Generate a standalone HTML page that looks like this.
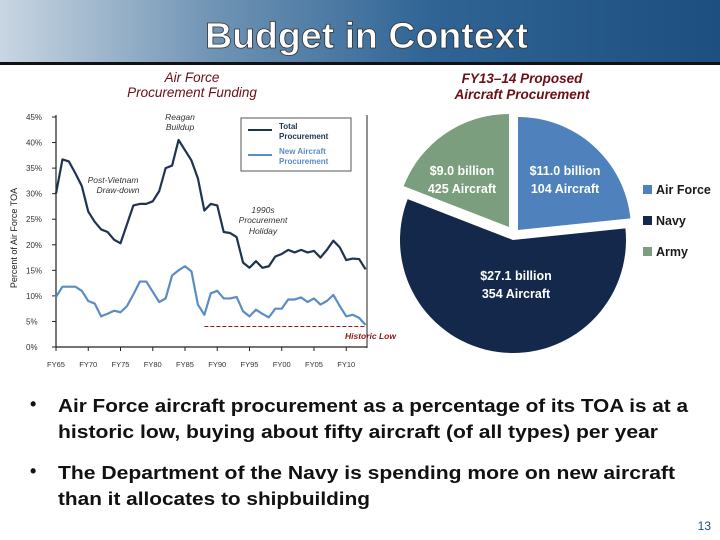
<!DOCTYPE html>
<html><head><meta charset="utf-8"><style>
html,body{margin:0;padding:0;background:#fff;}
svg{display:block;font-family:"Liberation Sans",sans-serif;}
</style></head><body>
<svg width="720" height="540" viewBox="0 0 720 540">
<defs>
<linearGradient id="hdr" x1="0" y1="0" x2="1" y2="0">
<stop offset="0" stop-color="#c9d6e2"/><stop offset="0.3" stop-color="#6f93b4"/><stop offset="0.6" stop-color="#2f6495"/><stop offset="1" stop-color="#1d4f80"/>
</linearGradient>
</defs>
<g>
<rect x="0" y="0" width="720" height="62" fill="url(#hdr)"/>
<rect x="0" y="62" width="720" height="3" fill="#111"/>
<text x="205" y="48" textLength="323" lengthAdjust="spacingAndGlyphs" font-size="36" font-weight="bold" fill="#fff" stroke="#333" stroke-width="0.8">Budget in Context</text>
</g>
<text x="192" y="82" text-anchor="middle" font-size="13.5" font-style="italic" fill="#6b0f14">Air Force</text>
<text x="192" y="97" text-anchor="middle" font-size="13.5" font-style="italic" fill="#6b0f14">Procurement Funding</text>
<text x="522" y="83" text-anchor="middle" font-size="13.5" font-style="italic" font-weight="bold" fill="#6b0f14">FY13–14 Proposed</text>
<text x="522" y="99" text-anchor="middle" font-size="13.5" font-style="italic" font-weight="bold" fill="#6b0f14">Aircraft Procurement</text>
<g id="line-chart"></g>
<g id="pie-chart"></g>
<g>
<text x="30" y="410" font-size="18" font-weight="bold" fill="#111">•</text>
<text x="58" y="412" font-size="18" font-weight="bold" fill="#111" textLength="630" lengthAdjust="spacingAndGlyphs">Air Force aircraft procurement as a percentage of its TOA is at a</text>
<text x="58" y="438" font-size="18" font-weight="bold" fill="#111" textLength="600" lengthAdjust="spacingAndGlyphs">historic low, buying about fifty aircraft (of all types) per year</text>
<text x="30" y="477" font-size="18" font-weight="bold" fill="#111">•</text>
<text x="58" y="479" font-size="18" font-weight="bold" fill="#111" textLength="617" lengthAdjust="spacingAndGlyphs">The Department of the Navy is spending more on new aircraft</text>
<text x="58" y="505" font-size="18" font-weight="bold" fill="#111" textLength="312" lengthAdjust="spacingAndGlyphs">than it allocates to shipbuilding</text>
</g>
<text x="711" y="530" text-anchor="end" font-size="12" fill="#1f4e79">13</text>
</svg>
<script>
const years=[];for(let y=1965;y<=2013;y++)years.push(y);
const totalProcurement=[30,36.7,36.3,34,31.5,26.5,24.5,23,22.5,21,20.3,24,27.7,28,28,28.5,30.5,35,35.5,40.5,38.5,36.5,33,26.7,28,27.7,22.5,22.3,21.5,16.5,15.5,16.8,15.5,15.8,17.7,18.2,19,18.5,19,18.5,18.8,17.5,19,20.8,19.5,17,17.3,17.2,15.2];
const newAircraft=[9.8,11.8,11.8,11.8,11,9,8.5,6,6.5,7.1,6.8,8,10.3,12.8,12.8,10.8,8.8,9.5,14,15,15.8,14.8,8.3,6.3,10.5,11,9.5,9.5,9.8,7,6,7.3,6.5,5.8,7.5,7.5,9.3,9.3,9.7,8.8,9.5,8.3,9,10.2,8,6,6.3,5.7,4.3];
const yTicks=[0,5,10,15,20,25,30,35,40,45];
const xTickYears=[1965,1970,1975,1980,1985,1990,1995,2000,2005,2010];
const historicLow=4;
const pieLabels=["Air Force","Navy","Army"];
const pieValues=[11.0,27.1,9.0];
const pieAircraft=[104,354,425];
const pieColors=["#4f81bd","#14284b","#7a9e7e"];

const NS="http://www.w3.org/2000/svg";
function mk(tag,attrs,parent){const e=document.createElementNS(NS,tag);for(const k in attrs)e.setAttribute(k,attrs[k]);parent.appendChild(e);return e;}
const X=y=>56+(y-1965)*6.45;
const Y=v=>347-v*(230/45);
const lc=document.getElementById('line-chart');
yTicks.forEach(t=>{
 const tx=mk('text',{x:26,y:Y(t)+3,'font-size':8,fill:'#333'},lc);tx.textContent=t+'%';
 
 
 mk('line',{x1:52,x2:56,y1:Y(t),y2:Y(t),stroke:'#222','stroke-width':1},lc);
});
xTickYears.forEach(yr=>{
 const tx=mk('text',{x:X(yr),y:367,'font-size':7.5,fill:'#333','text-anchor':'middle'},lc);tx.textContent='FY'+String(yr%100).padStart(2,'0');
 
 
 mk('line',{x1:X(yr),x2:X(yr),y1:347,y2:351,stroke:'#222'},lc);
});
mk('line',{x1:56,x2:56,y1:115,y2:348,stroke:'#222','stroke-width':1.2},lc);
mk('line',{x1:56,x2:367,y1:347,y2:347,stroke:'#222','stroke-width':1.2},lc);
mk('line',{x1:367,x2:367,y1:115,y2:348,stroke:'#222','stroke-width':1},lc);
const yt=mk('text',{x:0,y:0,'font-size':9,fill:'#222','text-anchor':'middle',transform:'translate(17,238) rotate(-90)'},lc);yt.textContent='Percent of Air Force TOA';


const hl=mk('line',{x1:X(1988),x2:X(2013),y1:Y(historicLow),y2:Y(historicLow),stroke:'#8b1a1a','stroke-width':1,'stroke-dasharray':'4,2'},lc);


const hlt=mk('text',{x:396,y:339,'font-size':8.5,'font-style':'italic','font-weight':'bold',fill:'#8b1a1a','text-anchor':'end'},lc);hlt.textContent='Historic Low';


function series(vals,color,name){
 const p=mk('polyline',{points:vals.map((v,i)=>X(years[i])+','+Y(v)).join(' '),fill:'none',stroke:color,'stroke-width':2.2,'stroke-linejoin':'round'},lc);
 
 
}
series(totalProcurement,'#1f3350','total-procurement-line');
series(newAircraft,'#5b8cc4','new-aircraft-line');
[['Reagan',180,120],['Buildup',180,130],['Post-Vietnam',113,183],['Draw-down',118,193],['1990s',263,213],['Procurement',263,223],['Holiday',263,234]].forEach(a=>{
 const t=mk('text',{x:a[1],y:a[2],'font-size':8.5,'font-style':'italic',fill:'#333','text-anchor':'middle'},lc);t.textContent=a[0];
 
 
});
const lg=mk('g',{},lc);


mk('rect',{x:241,y:118,width:110,height:53,fill:'#fff',stroke:'#555','stroke-width':1},lg);
mk('line',{x1:248,x2:272,y1:130,y2:130,stroke:'#1f3350','stroke-width':2},lg);
mk('line',{x1:248,x2:272,y1:155,y2:155,stroke:'#5b8cc4','stroke-width':2},lg);
[['Total',279,129,'#1f3350'],['Procurement',279,139,'#1f3350'],['New Aircraft',279,154,'#5b8cc4'],['Procurement',279,164,'#5b8cc4']].forEach(a=>{
 const t=mk('text',{x:a[1],y:a[2],'font-size':8,'font-weight':'bold',fill:a[3]},lg);t.textContent=a[0];
});

const pc=document.getElementById('pie-chart');
const R=113,total=pieValues.reduce((a,b)=>a+b,0);
const offsets=[[518,230],[513,240],[509,227]];
const labelPos=[[565,175],[516,280],[462,175]];
let ang=0;
pieValues.forEach((v,i)=>{
 const a0=ang,a1=ang+v/total*2*Math.PI;ang=a1;
 const [cx,cy]=offsets[i];
 const p0=[cx+R*Math.sin(a0),cy-R*Math.cos(a0)],p1=[cx+R*Math.sin(a1),cy-R*Math.cos(a1)];
 const large=(a1-a0)>Math.PI?1:0;
 const s=mk('path',{d:`M${cx},${cy} L${p0[0]},${p0[1]} A${R},${R} 0 ${large} 1 ${p1[0]},${p1[1]} Z`,fill:pieColors[i]},pc);
 
 
 const t1=mk('text',{x:labelPos[i][0],y:labelPos[i][1],'font-size':12.5,'font-weight':'bold',fill:'#fff','text-anchor':'middle'},pc);t1.textContent='$'+v.toFixed(1)+' billion';
 
 
 const t2=mk('text',{x:labelPos[i][0],y:labelPos[i][1]+18,'font-size':12.5,'font-weight':'bold',fill:'#fff','text-anchor':'middle'},pc);t2.textContent=pieAircraft[i]+' Aircraft';
 
 
 const ly=190+i*31;
 mk('rect',{x:643,y:ly-5,width:9,height:9,fill:pieColors[i]},pc);
 const lt=mk('text',{x:656,y:ly+4,'font-size':12.5,'font-weight':'bold',fill:'#1a1a1a'},pc);lt.textContent=pieLabels[i];
 
 
});
</script>
</body></html>
